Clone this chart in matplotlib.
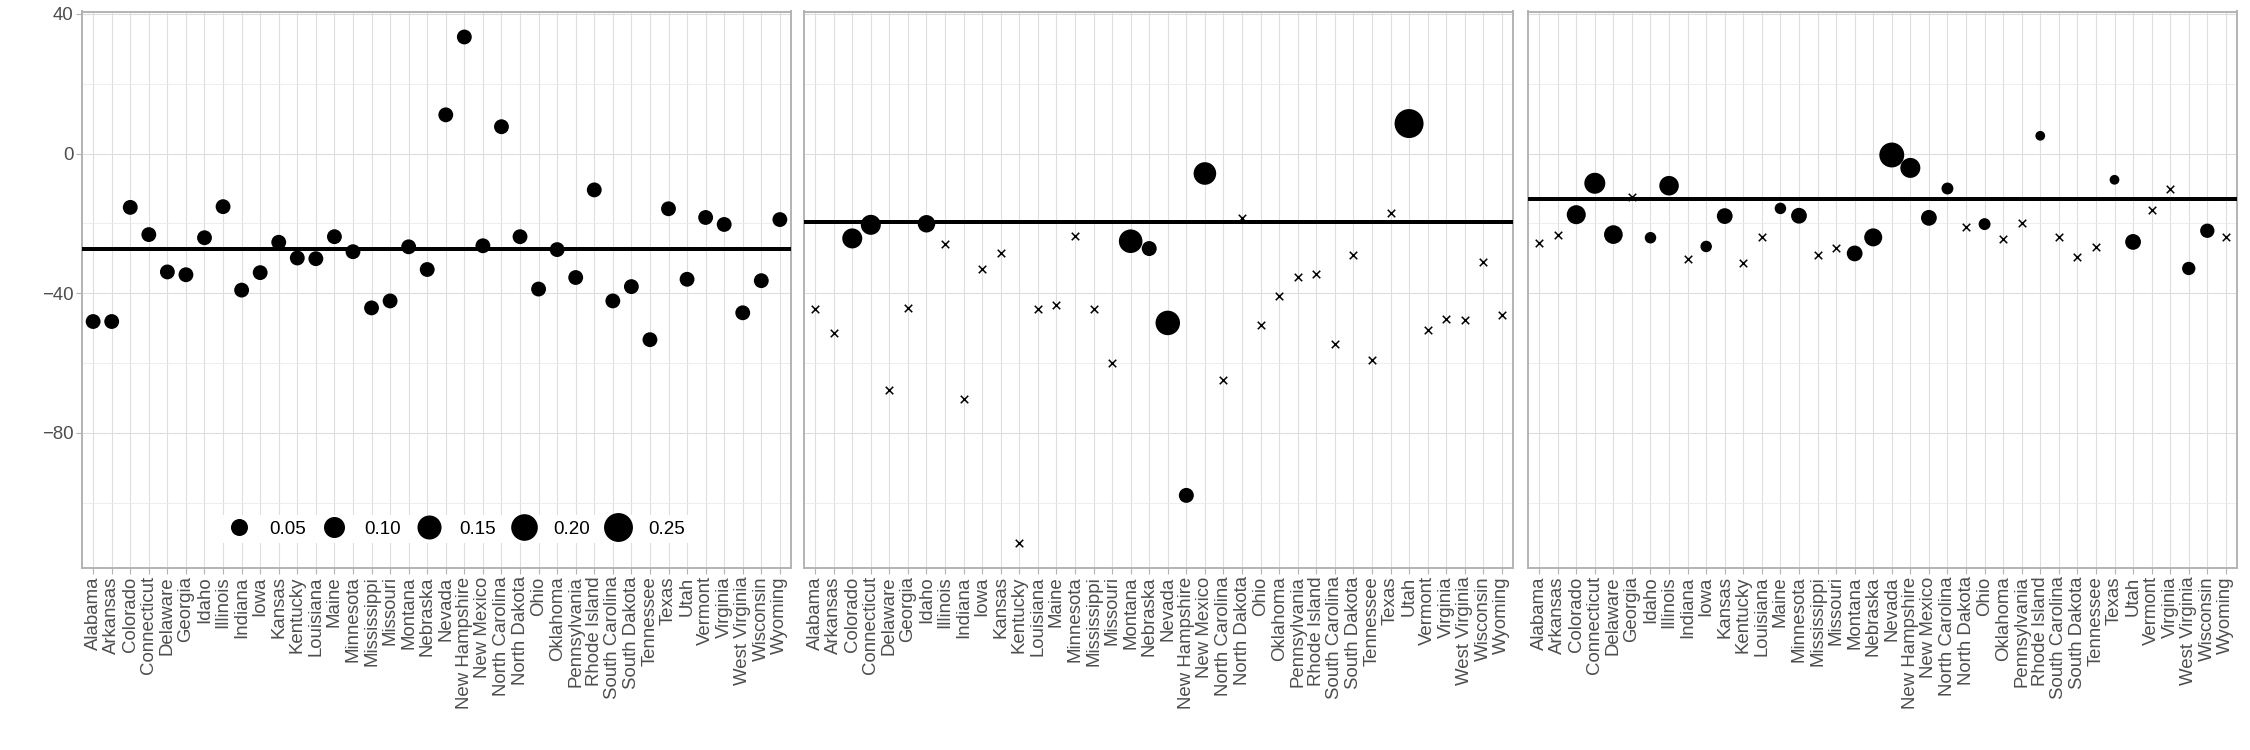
import matplotlib
matplotlib.use("Agg")
import matplotlib.pyplot as plt
import numpy as np
from matplotlib.lines import Line2D

plt.rcParams["font.family"] = ["Liberation Sans", "DejaVu Sans"]

states = [
    "Alabama", "Arkansas", "Colorado", "Connecticut", "Delaware", "Georgia", "Idaho",
    "Illinois", "Indiana", "Iowa", "Kansas", "Kentucky", "Louisiana", "Maine",
    "Minnesota", "Mississippi", "Missouri", "Montana", "Nebraska", "Nevada",
    "New Hampshire", "New Mexico", "North Carolina", "North Dakota", "Ohio", "Oklahoma",
    "Pennsylvania", "Rhode Island", "South Carolina", "South Dakota", "Tennessee", "Texas",
    "Utah", "Vermont", "Virginia", "West Virginia", "Wisconsin", "Wyoming",
]

# panel 1: every state drawn as a circle
est1 = [-48.1, -48.1, -15.4, -23.2, -33.9, -34.7, -24.1, -15.2, -39.1, -34.1,
        -25.4, -29.9, -30.1, -23.8, -28.1, -44.2, -42.2, -26.7, -33.2, 11.1,
        33.4, -26.4, 7.7, -23.8, -38.8, -27.5, -35.5, -10.4, -42.2, -38.1,
        -53.3, -15.8, -36.0, -18.3, -20.3, -45.6, -36.4, -18.9]
wt1 = [0.03] * 38

# panel 2: NaN weight -> drawn as a cross
est2 = [-44.4, -51.4, -24.3, -20.4, -67.8, -44.3, -20.1, -26.0, -70.4, -33.1,
        -28.6, -111.5, -44.4, -43.4, -23.5, -44.5, -60.0, -25.1, -27.2, -48.5,
        -97.9, -5.7, -64.9, -18.5, -49.1, -40.8, -35.3, -34.4, -54.4, -29.0,
        -59.2, -17.0, 8.6, -50.6, -47.4, -47.7, -31.1, -46.1]
wt2 = [np.nan, np.nan, 0.086, 0.086, np.nan, np.nan, 0.055, np.nan, np.nan, np.nan,
       np.nan, np.nan, np.nan, np.nan, np.nan, np.nan, np.nan, 0.142, 0.031, 0.158,
       0.031, 0.125, np.nan, np.nan, np.nan, np.nan, np.nan, np.nan, np.nan, np.nan,
       np.nan, np.nan, 0.252, np.nan, np.nan, np.nan, np.nan, np.nan]

# panel 3
est3 = [-25.5, -23.3, -17.5, -8.5, -23.2, -12.4, -24.1, -9.2, -30.3, -26.6,
        -17.9, -31.4, -23.8, -15.7, -17.8, -29.0, -27.0, -28.6, -24.0, -0.4,
        -4.1, -18.4, -10.0, -21.0, -20.2, -24.5, -20.0, 5.1, -24.0, -29.6,
        -26.7, -7.5, -25.3, -16.3, -10.0, -32.9, -22.1, -24.0]
wt3 = [np.nan, np.nan, 0.073, 0.100, 0.069, np.nan, 0.009, 0.080, np.nan, 0.009,
       0.038, np.nan, np.nan, 0.009, 0.038, np.nan, np.nan, 0.038, 0.061, 0.166,
       0.086, 0.038, 0.011, np.nan, 0.011, np.nan, np.nan, 0.003, np.nan, np.nan,
       np.nan, 0.003, 0.038, np.nan, np.nan, 0.019, 0.026, np.nan]

ref_lines = [-27.2, -19.5, -13.1]
legend_breaks = [0.05, 0.10, 0.15, 0.20, 0.25]
y_ticks = [40, 0, -40, -80]
y_minor = [20, -20, -60, -100]

DPI = 100
PX = 72 / DPI  # points per pixel
FS = 13.4


def diam_px(w):
    """sqrt-area size scale: weight -> marker diameter in pixels."""
    return 7.4 + 43 * np.sqrt(np.asarray(w, dtype=float))


def draw_panel(ax, est, wt, hline, first):
    x = np.arange(1, len(states) + 1)
    est = np.asarray(est)
    wt = np.asarray(wt, dtype=float)
    circ = ~np.isnan(wt)
    ax.scatter(x[circ], est[circ], s=(diam_px(wt[circ]) * PX) ** 2, color="black",
               edgecolors="none", zorder=3)
    ax.scatter(x[~circ], est[~circ], s=(7.5 * PX) ** 2, marker="x", color="black",
               linewidths=1.1, zorder=3)
    ax.axhline(hline, color="black", linewidth=4 * PX, zorder=4)

    ax.set_xlim(0.4, len(states) + 0.6)
    ax.set_ylim(-118.7, 40.7)
    ax.set_xticks(x)
    ax.set_xticklabels(states, rotation=90, fontsize=FS, color="#4D4D4D")
    ax.set_yticks(y_ticks)
    ax.set_yticks(y_minor, minor=True)
    if first:
        ax.set_yticklabels([str(t).replace("-", "\u2212") for t in y_ticks],
                           fontsize=FS, color="#4D4D4D")
    else:
        ax.tick_params(axis="y", which="both", left=False, labelleft=False)
    ax.tick_params(axis="both", which="major", length=4, width=0.8, color="#B3B3B3", pad=2)
    ax.tick_params(axis="y", which="minor", length=0)
    ax.grid(True, which="major", color="#DEDEDE", linewidth=0.8, zorder=0)
    ax.grid(True, which="minor", axis="y", color="#EBEBEB", linewidth=0.6, zorder=0)
    ax.set_axisbelow(True)
    for sp in ax.spines.values():
        sp.set_color("#B3B3B3")
        sp.set_linewidth(1.4)


fig = plt.figure(figsize=(22.5, 7.5), dpi=DPI)
W, H = 2250, 750
lefts = [82, 804, 1528]
pw = 709
top, bottom = 11.5, 568
axes = [fig.add_axes([l / W, (H - bottom) / H, pw / W, (bottom - top) / H]) for l in lefts]

for i, (ax, est, wt) in enumerate(zip(axes, [est1, est2, est3], [wt1, wt2, wt3])):
    draw_panel(ax, est, wt, ref_lines[i], i == 0)

handles = [Line2D([], [], linestyle="none", marker="o", color="black",
                  markeredgewidth=0, markersize=diam_px(b) * PX) for b in legend_breaks]
leg = axes[0].legend(handles, [f"{b:.2f}" for b in legend_breaks], ncol=5,
                     loc="center", bbox_to_anchor=(0.527, 0.07), frameon=True,
                     fontsize=13.5, handlelength=1.4, handletextpad=0.9,
                     columnspacing=0.8, borderpad=0.3)
leg.get_frame().set_facecolor("white")
leg.get_frame().set_edgecolor("none")
leg.get_frame().set_alpha(1)

fig.savefig("out.png", dpi=DPI)
